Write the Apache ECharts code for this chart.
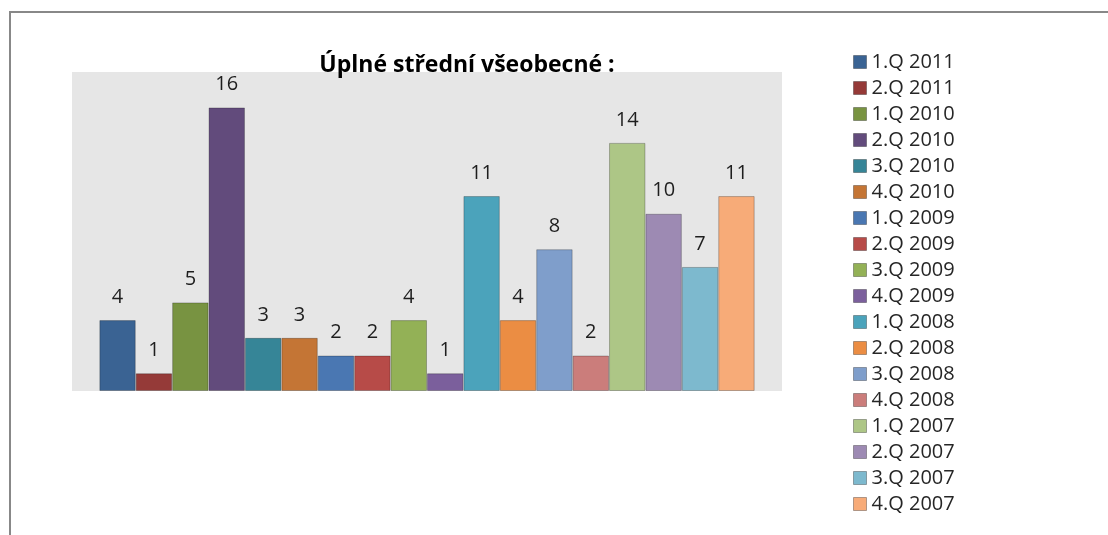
<!DOCTYPE html>
<html lang="cs">
  <head>
    <meta charset="UTF-8" />
    <title>Úplné střední všeobecné</title>
    <script src="https://cdn.jsdelivr.net/npm/echarts@6/dist/echarts.min.js"></script>
    <style>
      html, body { margin: 0; padding: 0; background: #fff; }
    </style>
  </head>
  <body>
    <div id="main" style="width: 1108px; height: 535px"></div>
    <script type="text/javascript">
      // one category, one bar per quarter
      const quarters = [
        "1.Q 2011", "2.Q 2011", "1.Q 2010", "2.Q 2010", "3.Q 2010", "4.Q 2010",
        "1.Q 2009", "2.Q 2009", "3.Q 2009", "4.Q 2009", "1.Q 2008", "2.Q 2008",
        "3.Q 2008", "4.Q 2008", "1.Q 2007", "2.Q 2007", "3.Q 2007", "4.Q 2007"
      ];
      const counts = [4, 1, 5, 16, 3, 3, 2, 2, 4, 1, 11, 4, 8, 2, 14, 10, 7, 11];

      const colors = [
        "#3a6393", "#953a38", "#789341", "#624b7c", "#368597", "#c47535",
        "#4a77b2", "#b74b48", "#93b156", "#7b5f9c", "#4ba3bb", "#eb8d43",
        "#7f9ecb", "#cb7d7b", "#adc686", "#9d8ab3", "#7db9ce", "#f7ab78"
      ];

      const font = "'Open Sans', 'DejaVu Sans', sans-serif";
      let myChart = echarts.init(document.getElementById("main"));

      let series = quarters.map((name, i) => ({
        name: name,
        type: "bar",
        barGap: "0%",
        barCategoryGap: "7.7%",
        data: [counts[i]],
        itemStyle: {
          color: colors[i],
          borderColor: "rgba(0,0,0,0.25)",
          borderWidth: 1
        },
        label: {
          show: true,
          position: "top",
          distance: 13,
          fontFamily: font,
          fontSize: 20,
          color: "#1e1e1e"
        }
      }));

      let options = {
        animation: false,
        backgroundColor: "#fff",
        color: colors,
        title: {
          text: "Úplné střední všeobecné :",
          left: 462,
          top: 49,
          textAlign: "center",
          textStyle: { fontFamily: font, fontSize: 23, fontWeight: "bold", color: "#000" }
        },
        graphic: [
          {
            type: "rect",
            shape: { x: 10, y: 12, width: 1200, height: 700 },
            style: { fill: "none", stroke: "#888", lineWidth: 2 },
            silent: true
          }
        ],
        grid: {
          left: 72,
          top: 72,
          width: 710,
          height: 319,
          show: true,
          backgroundColor: "#e6e6e6",
          borderWidth: 0
        },
        legend: {
          orient: "vertical",
          left: 853,
          top: 52,
          padding: 0,
          itemWidth: 13,
          itemHeight: 13,
          itemGap: 6,
          icon: "rect",
          itemStyle: { borderColor: "rgba(0,0,0,0.3)", borderWidth: 1 },
          textStyle: { fontFamily: font, fontSize: 20, lineHeight: 20, color: "#262626" },
          data: quarters
        },
        xAxis: {
          type: "category",
          data: [""],
          show: false
        },
        yAxis: {
          type: "value",
          min: 0,
          max: 18,
          show: false
        },
        series: series
      };

      myChart.setOption(options);
    </script>
  </body>
</html>
